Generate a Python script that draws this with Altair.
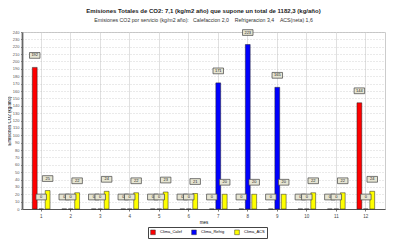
import altair as alt
import pandas as pd

months = list(range(1, 13))
series = ["Clima_Calef", "Clima_Refrig", "Clima_ACS"]
calef = [192, 0, 0, 0, 0, 0, 0, 0, 0, 0, 0, 144]
refrig = [0, 0, 0, 0, 0, 0, 171, 223, 165, 0, 0, 0]
acs = [25, 22, 24, 22, 23, 21, 20, 20, 20, 22, 22, 24]
colors = ["#FF0000", "#0000FF", "#FFFF00"]
y_ticks = list(range(0, 241, 10))

rows = []
for name, vals in zip(series, [calef, refrig, acs]):
    for m, v in zip(months, vals):
        rows.append({"mes": m, "serie": name, "valor": v, "lbl": str(v)})
df = pd.DataFrame(rows)

x_enc = alt.X("mes:O", title="mes",
              scale=alt.Scale(paddingInner=0.4, paddingOuter=0.35),
              axis=alt.Axis(labelAngle=0, labelFontSize=4.5, labelColor="#444",
                            titleFontSize=4.5, titleFontWeight="normal", titlePadding=2,
                            grid=True, gridColor="#d8d8d8", gridWidth=0.8, bandPosition=0.5,
                            tickSize=2, domainColor="#555", domainWidth=1.2, tickColor="#777",
                            labelPadding=2))
xo_enc = alt.XOffset("serie:N", sort=series, scale=alt.Scale(paddingInner=0.25))
y_enc = alt.Y("valor:Q", title="Emisiones CO2 (kg/año)",
              scale=alt.Scale(domain=[0, 240], nice=False),
              axis=alt.Axis(values=y_ticks, labelFontSize=4, labelColor="#555",
                            titleFontSize=4.5, titleFontWeight="normal", titlePadding=1,
                            grid=True, gridColor="#bbbbbb", gridDash=[1, 2], gridWidth=0.6,
                            tickSize=1.5, domainColor="#666", domainWidth=1.8, tickColor="#888",
                            labelPadding=1.5))
color_enc = alt.Color("serie:N", sort=series,
                      scale=alt.Scale(domain=series, range=colors),
                      legend=alt.Legend(title=None, orient="none", legendX=126, legendY=195,
                                        direction="horizontal", symbolType="square",
                                        symbolSize=22, symbolStrokeColor="#333",
                                        symbolStrokeWidth=0.5, labelFontSize=4,
                                        columnPadding=8, padding=2, strokeColor="#444",
                                        fillColor="#ffffff", labelLimit=60))

base = alt.Chart(df)

bars = base.mark_bar(stroke="#222", strokeWidth=0.5).encode(
    x=x_enc, xOffset=xo_enc, y=y_enc, color=color_enc
)

boxes = base.mark_point(
    shape="M-1,-0.55L1,-0.55L1,0.55L-1,0.55Z", size=110, filled=True,
    fill="#e6e5d3", stroke="#444", strokeWidth=0.7, opacity=1, yOffset=-12
).encode(x=x_enc, xOffset=xo_enc, y=y_enc)

texts = base.mark_text(fontSize=4, color="#222", dy=-12, font="Liberation Sans").encode(
    x=x_enc, xOffset=xo_enc, y=y_enc, text="lbl:N"
)

nb = "\u00a0"
subtitle = ("Emisiones CO2 por servicio (kg/m2 año):" + nb * 3 + "Calefaccion 2,0" + nb * 4
            + "Refrigeracion 3,4" + nb * 4 + "ACS(neta) 1,6")

chart = alt.layer(bars, boxes, texts).properties(
    width=363, height=177,
    title=alt.TitleParams(
        text="Emisiones Totales de CO2: 7,1 (kg/m2 año) que supone un total de 1182,3 (kg/año)",
        subtitle=subtitle,
        fontSize=6, fontWeight="bold", subtitleFontSize=5.2, subtitlePadding=4,
        anchor="middle", offset=5, color="#222", subtitleColor="#333",
        font="Liberation Sans", subtitleFont="Liberation Sans"),
    autosize=alt.AutoSizeParams(type="none"),
    padding={"left": 14, "top": 24, "right": 1, "bottom": 31},
).configure(font="Liberation Sans").configure_view(stroke="#cccccc")

chart.save("out.html", embed_options={"renderer": "svg", "actions": False})
